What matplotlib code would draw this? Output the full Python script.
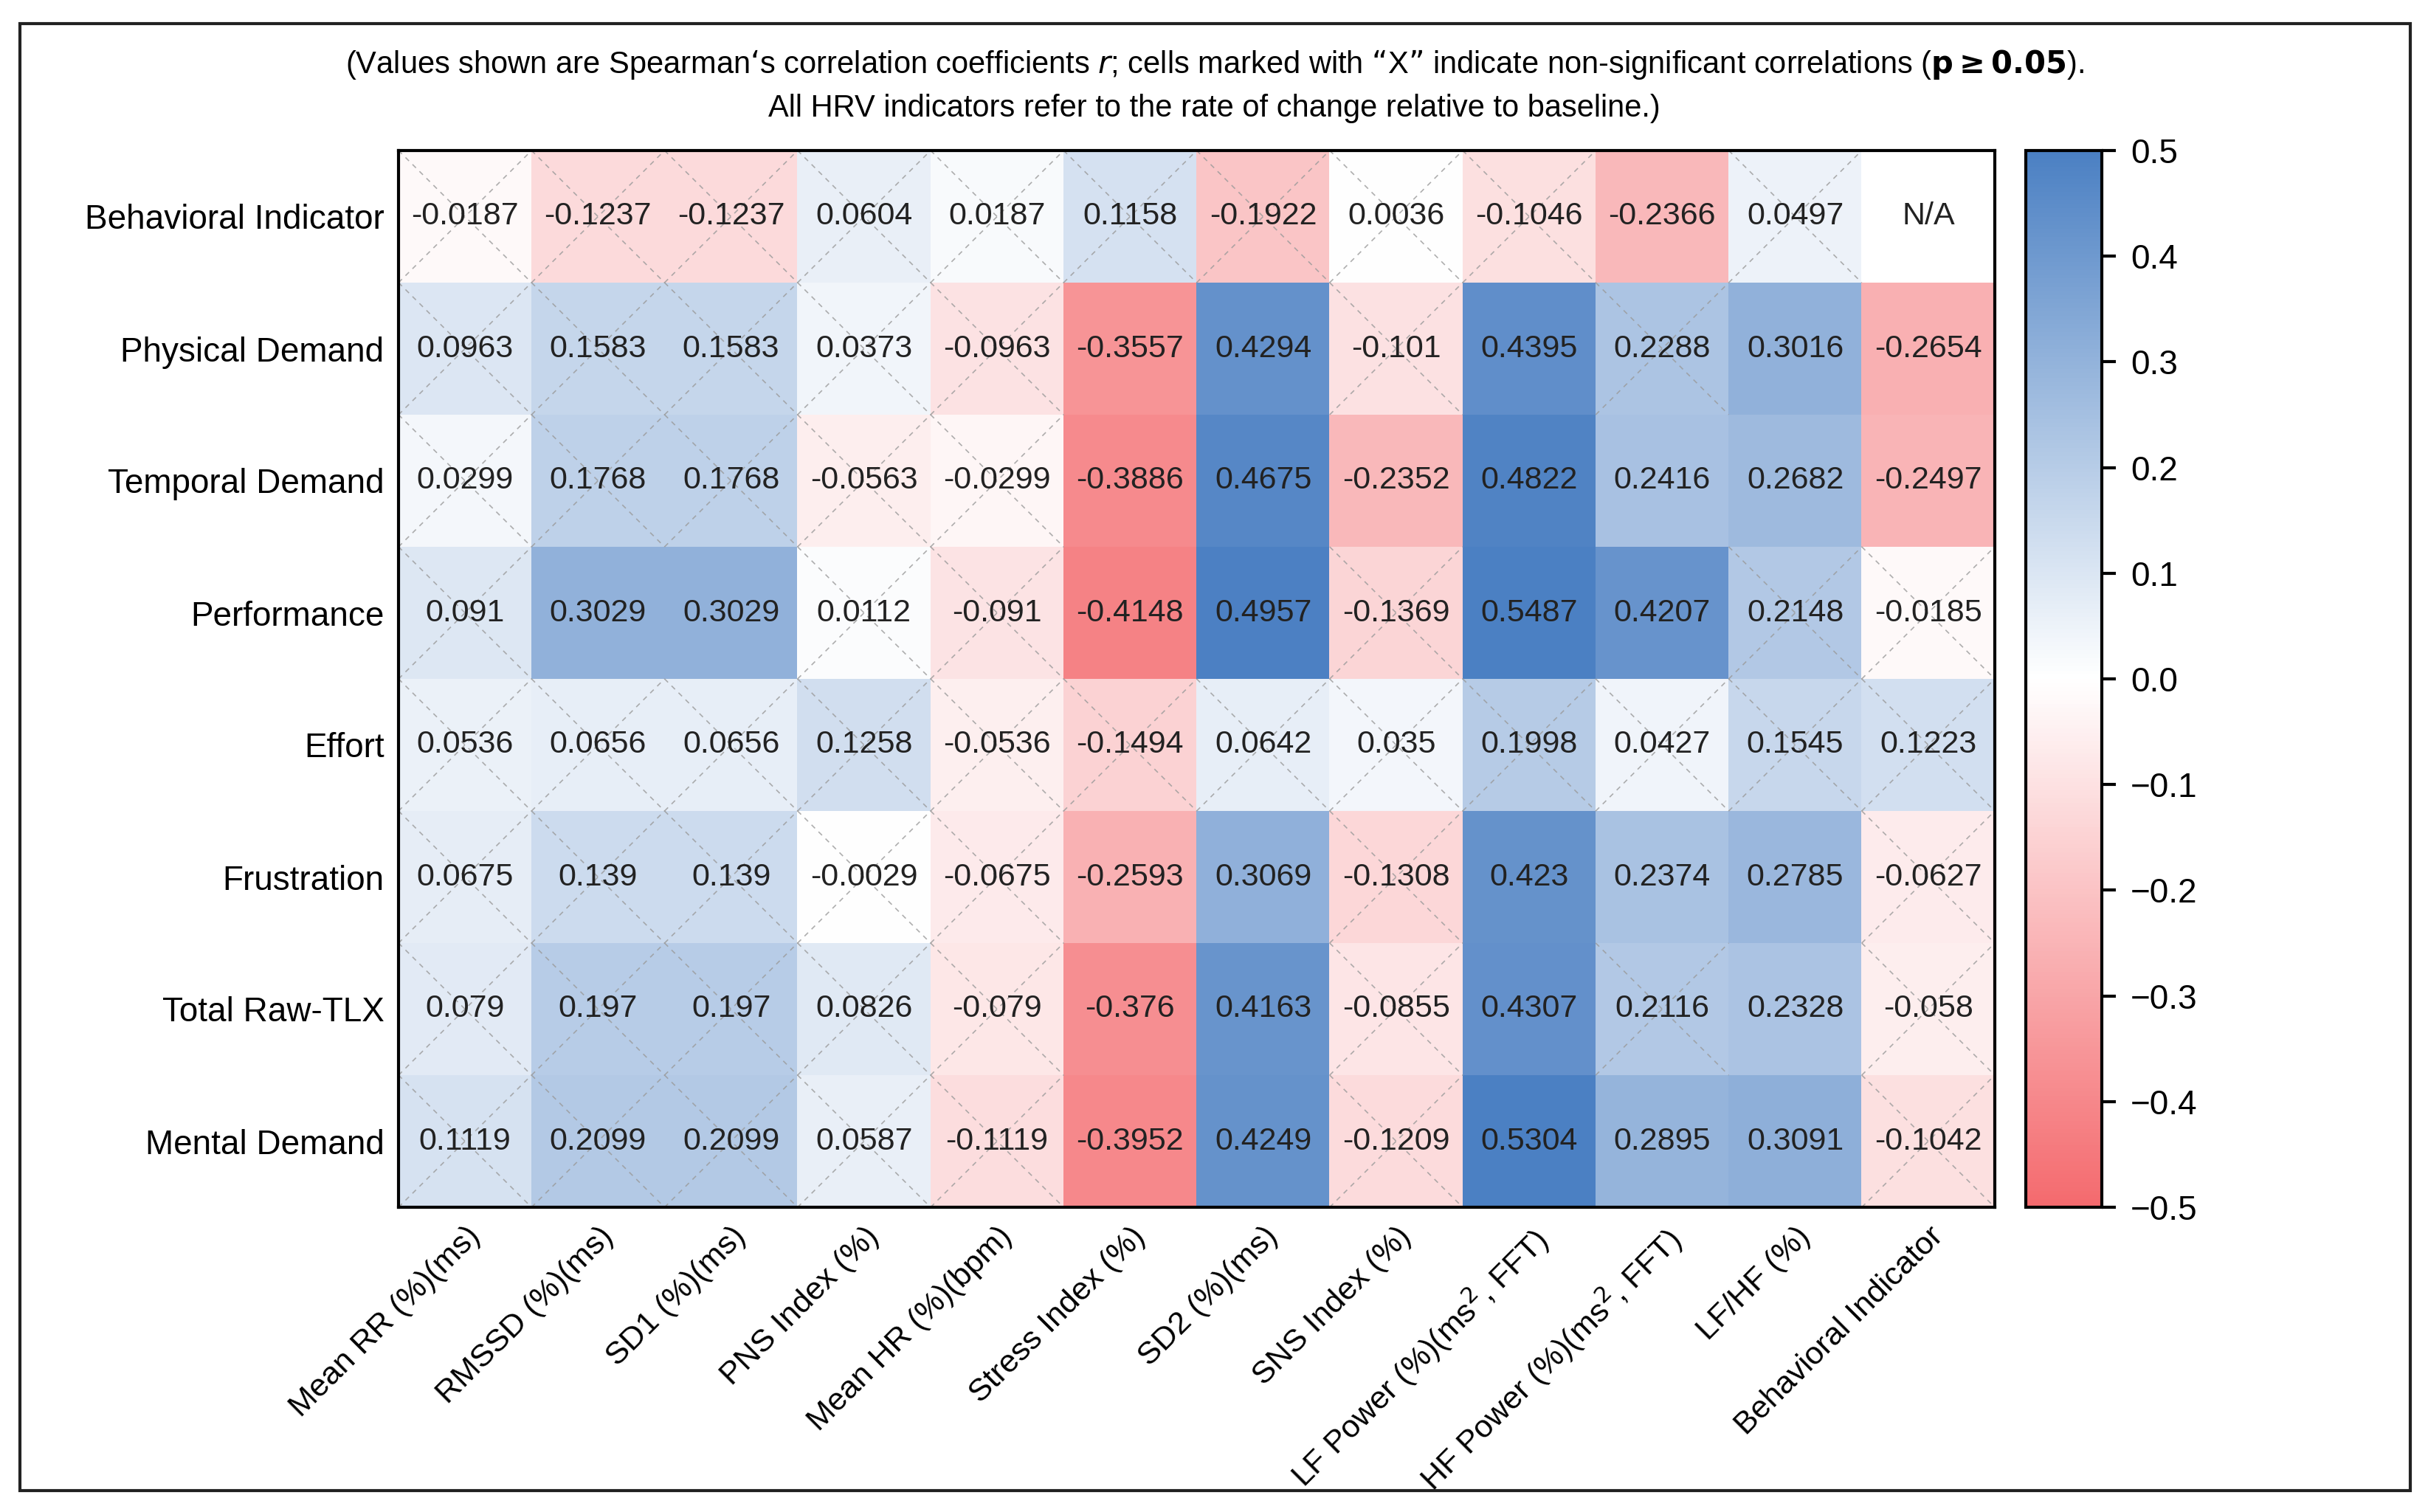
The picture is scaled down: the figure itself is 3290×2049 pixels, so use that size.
import matplotlib.pyplot as plt
import numpy as np
from matplotlib.colors import LinearSegmentedColormap
from matplotlib.patches import Rectangle

plt.rcParams['font.family'] = ['Liberation Sans', 'DejaVu Sans']

filas = ["Behavioral Indicator", "Physical Demand", "Temporal Demand", "Performance",
         "Effort", "Frustration", "Total Raw-TLX", "Mental Demand"]
columnas = ["Mean RR (%)(ms)", "RMSSD (%)(ms)", "SD1 (%)(ms)", "PNS Index (%)", "Mean HR (%)(bpm)",
            "Stress Index (%)", "SD2 (%)(ms)", "SNS Index (%)", "LF Power (%)(ms$^2$, FFT)",
            "HF Power (%)(ms$^2$, FFT)", "LF/HF (%)", "Behavioral Indicator"]

r_behavioral = [-0.0187, -0.1237, -0.1237, 0.0604, 0.0187, 0.1158, -0.1922, 0.0036, -0.1046, -0.2366, 0.0497, np.nan]
r_physical = [0.0963, 0.1583, 0.1583, 0.0373, -0.0963, -0.3557, 0.4294, -0.101, 0.4395, 0.2288, 0.3016, -0.2654]
r_temporal = [0.0299, 0.1768, 0.1768, -0.0563, -0.0299, -0.3886, 0.4675, -0.2352, 0.4822, 0.2416, 0.2682, -0.2497]
r_performance = [0.091, 0.3029, 0.3029, 0.0112, -0.091, -0.4148, 0.4957, -0.1369, 0.5487, 0.4207, 0.2148, -0.0185]
r_effort = [0.0536, 0.0656, 0.0656, 0.1258, -0.0536, -0.1494, 0.0642, 0.035, 0.1998, 0.0427, 0.1545, 0.1223]
r_frustration = [0.0675, 0.139, 0.139, -0.0029, -0.0675, -0.2593, 0.3069, -0.1308, 0.423, 0.2374, 0.2785, -0.0627]
r_total = [0.079, 0.197, 0.197, 0.0826, -0.079, -0.376, 0.4163, -0.0855, 0.4307, 0.2116, 0.2328, -0.058]
r_mental = [0.1119, 0.2099, 0.2099, 0.0587, -0.1119, -0.3952, 0.4249, -0.1209, 0.5304, 0.2895, 0.3091, -0.1042]

datos = np.array([r_behavioral, r_physical, r_temporal, r_performance,
                  r_effort, r_frustration, r_total, r_mental])
umbral = 0.23  # |r| por debajo -> no significativo (X)

cmap = LinearSegmentedColormap.from_list("rb", ["#f46a6e", "#ffffff", "#4b80c3"])
cmap.set_bad("white")

fig = plt.figure(figsize=(32.91, 20.49), dpi=100)
ax = fig.add_axes([540/3291, 1 - 1636/2049, (2703-540)/3291, (1636-204)/2049])
cax = fig.add_axes([2745/3291, 1 - 1636/2049, (2848-2745)/3291, (1636-204)/2049])

im = ax.imshow(np.ma.masked_invalid(datos), cmap=cmap, vmin=-0.5, vmax=0.5, aspect="auto")

n_f, n_c = datos.shape
for i in range(n_f):
    for j in range(n_c):
        v = datos[i, j]
        if np.isnan(v):
            ax.text(j, i, "N/A", ha="center", va="center", fontsize=31, color="#222222")
            continue
        ax.text(j, i, f"{v:g}", ha="center", va="center", fontsize=31, color="#222222")
        if abs(v) < umbral:
            ax.plot([j-0.5, j+0.5], [i-0.5, i+0.5], ls=(0, (4, 4)), lw=1.2, color="#9a9a9a", alpha=0.8)
            ax.plot([j-0.5, j+0.5], [i+0.5, i-0.5], ls=(0, (4, 4)), lw=1.2, color="#9a9a9a", alpha=0.8)

ax.set_xlim(-0.5, n_c-0.5)
ax.set_ylim(n_f-0.5, -0.5)
ax.set_xticks(np.arange(n_c))
ax.set_xticklabels(columnas, rotation=45, ha="right", rotation_mode="anchor", fontsize=31)
ax.set_yticks(np.arange(n_f))
ax.set_yticklabels(filas, fontsize=33)
ax.tick_params(length=0, pad=14)
for s in ax.spines.values():
    s.set_linewidth(3)

cb = fig.colorbar(im, cax=cax)
cb.set_ticks([-0.5, -0.4, -0.3, -0.2, -0.1, 0, 0.1, 0.2, 0.3, 0.4, 0.5])
cb.ax.tick_params(labelsize=33, width=3, length=14, pad=14)
cb.outline.set_linewidth(3)

fig.text(0.5, 1 - 88/2049,
         "(Values shown are Spearman\u2018s correlation coefficients $r$; cells marked with \u201cX\u201d indicate non-significant correlations ($\\mathbf{p \\geq 0.05}$).",
         ha="center", va="center", fontsize=30)
fig.text(0.5, 1 - 147/2049, "All HRV indicators refer to the rate of change relative to baseline.)",
         ha="center", va="center", fontsize=30)

fig.patches.append(Rectangle((27/3291, 1 - 2020/2049), (3266-27)/3291, (2020-32)/2049,
                             transform=fig.transFigure, fill=False, lw=3, color="#222222"))

fig.savefig("out.png", dpi=100)
